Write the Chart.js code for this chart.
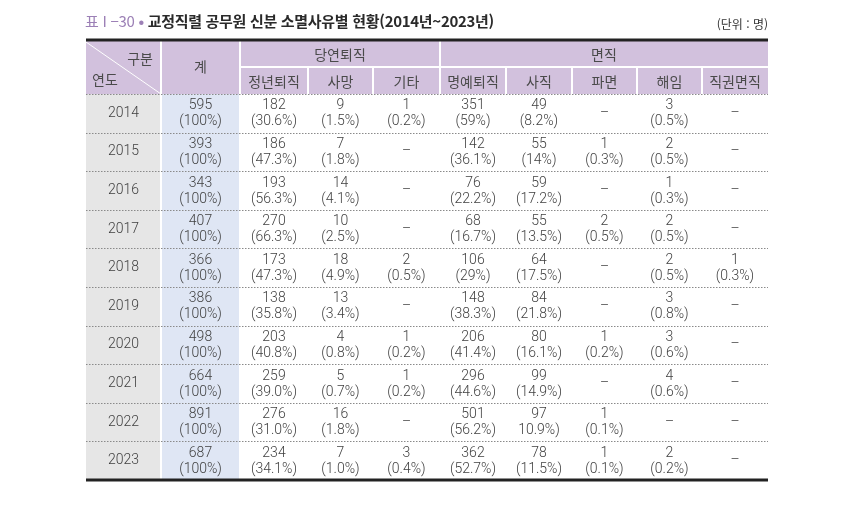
<!DOCTYPE html>
<html lang="ko">
<head>
<meta charset="utf-8">
<title>교정직렬 공무원 신분 소멸사유별 현황</title>
<script src="https://cdn.jsdelivr.net/npm/chart.js@4.4.1/dist/chart.umd.min.js"></script>
<style>
    body { margin: 0; background: #fff; }
    #wrap { position: relative; width: 850px; height: 505px; }
    #title {
        position: absolute; left: 85px; top: 10px;
        font: 700 15px "Noto Sans CJK KR", sans-serif; color: #2a2a2a;
        letter-spacing: -0.3px; white-space: nowrap;
    }
    #title .no { color: #9c80b6; font-weight: 400; }
    #title .dot { color: #9c80b6; }
    #unit {
        position: absolute; right: 82px; top: 15px;
        font: 12px "Noto Sans CJK KR", sans-serif; color: #333;
    }
</style>
</head>
<body>
<div id="wrap">
    <canvas id="tableChart" width="850" height="505"></canvas>
    <div id="title"><span class="no">표 I −30</span><span class="dot"> • </span>교정직렬 공무원 신분 소멸사유별 현황(2014년~2023년)</div>
    <div id="unit">(단위 : 명)</div>
</div>
<script>
const years = ['2014', '2015', '2016', '2017', '2018', '2019', '2020', '2021', '2022', '2023'];
const groupHeaders = ['당연퇴직', '면직'];
const subHeaders = ['정년퇴직', '사망', '기타', '명예퇴직', '사직', '파면', '해임', '직권면직'];

const totalCount = [595, 393, 343, 407, 366, 386, 498, 664, 891, 687];
const totalPct = ['(100%)', '(100%)', '(100%)', '(100%)', '(100%)', '(100%)', '(100%)', '(100%)', '(100%)', '(100%)'];

const retireCount = [182, 186, 193, 270, 173, 138, 203, 259, 276, 234];
const retirePct = ['(30.6%)', '(47.3%)', '(56.3%)', '(66.3%)', '(47.3%)', '(35.8%)', '(40.8%)', '(39.0%)', '(31.0%)', '(34.1%)'];
const deathCount = [9, 7, 14, 10, 18, 13, 4, 5, 16, 7];
const deathPct = ['(1.5%)', '(1.8%)', '(4.1%)', '(2.5%)', '(4.9%)', '(3.4%)', '(0.8%)', '(0.7%)', '(1.8%)', '(1.0%)'];
const etcCount = [1, null, null, null, 2, null, 1, 1, null, 3];
const etcPct = ['(0.2%)', null, null, null, '(0.5%)', null, '(0.2%)', '(0.2%)', null, '(0.4%)'];

const honorCount = [351, 142, 76, 68, 106, 148, 206, 296, 501, 362];
const honorPct = ['(59%)', '(36.1%)', '(22.2%)', '(16.7%)', '(29%)', '(38.3%)', '(41.4%)', '(44.6%)', '(56.2%)', '(52.7%)'];
const resignCount = [49, 55, 59, 55, 64, 84, 80, 99, 97, 78];
const resignPct = ['(8.2%)', '(14%)', '(17.2%)', '(13.5%)', '(17.5%)', '(21.8%)', '(16.1%)', '(14.9%)', '10.9%)', '(11.5%)'];
const dismissCount = [null, 1, null, 2, null, null, 1, null, 1, 1];
const dismissPct = [null, '(0.3%)', null, '(0.5%)', null, null, '(0.2%)', null, '(0.1%)', '(0.1%)'];
const removeCount = [3, 2, 1, 2, 2, 3, 3, 4, null, 2];
const removePct = ['(0.5%)', '(0.5%)', '(0.3%)', '(0.5%)', '(0.5%)', '(0.8%)', '(0.6%)', '(0.6%)', null, '(0.2%)'];
const officialCount = [null, null, null, null, 1, null, null, null, null, null];
const officialPct = [null, null, null, null, '(0.3%)', null, null, null, null, null];

// layout (scale units)
const colEdges = [0, 75, 154, 222, 287, 354, 420, 486, 551, 616, 682];
const headRow1 = 27;
const headRow2 = 54;
const rowH = 38.6;

document.addEventListener("DOMContentLoaded", function () {
    const seriesCount = [totalCount, retireCount, deathCount, etcCount, honorCount, resignCount, dismissCount, removeCount, officialCount];
    const seriesPct = [totalPct, retirePct, deathPct, etcPct, honorPct, resignPct, dismissPct, removePct, officialPct];

    const numFont = '300 14px Roboto, "Noto Sans CJK KR", sans-serif';
    const korFont = '14px "Noto Sans CJK KR", sans-serif';

    const tablePlugin = {
        id: 'tableDraw',
        afterDraw(chart) {
            const ctx = chart.ctx;
            const X = v => chart.scales.x.getPixelForValue(v);
            const Y = v => chart.scales.y.getPixelForValue(v);
            const yEnd = headRow2 + rowH * years.length;

            ctx.save();
            // header background
            ctx.fillStyle = '#d2c1dd';
            ctx.fillRect(X(0), Y(0), X(682) - X(0), Y(headRow2) - Y(0));
            // year / total columns
            ctx.fillStyle = '#e6e6e6';
            ctx.fillRect(X(0), Y(headRow2), X(colEdges[1]) - X(0), Y(yEnd) - Y(headRow2));
            ctx.fillStyle = '#dfe6f4';
            ctx.fillRect(X(colEdges[1]), Y(headRow2), X(colEdges[2]) - X(colEdges[1]), Y(yEnd) - Y(headRow2));

            // white separators
            ctx.strokeStyle = '#ffffff';
            ctx.lineWidth = 2;
            ctx.beginPath();
            for (let i = 1; i < colEdges.length - 1; i++) {
                const top = (i == 1 || i == 2 || i == 5) ? 0 : headRow1;
                const bottom = (i <= 2) ? yEnd : headRow2;
                ctx.moveTo(X(colEdges[i]), Y(top));
                ctx.lineTo(X(colEdges[i]), Y(bottom));
            }
            ctx.moveTo(X(colEdges[2]), Y(headRow1));
            ctx.lineTo(X(682), Y(headRow1));
            ctx.stroke();
            ctx.lineWidth = 1;
            ctx.beginPath();
            ctx.moveTo(X(0), Y(0) + 2);
            ctx.lineTo(X(colEdges[1]), Y(headRow2));
            ctx.stroke();

            // dotted row lines
            ctx.strokeStyle = '#8a8a8a';
            ctx.lineWidth = 1;
            ctx.setLineDash([1.5, 1.5]);
            ctx.beginPath();
            for (let r = 0; r < years.length; r++) {
                const yy = Math.round(Y(headRow2 + rowH * r)) + 0.5;
                ctx.moveTo(X(0), yy);
                ctx.lineTo(X(682), yy);
            }
            ctx.stroke();
            ctx.setLineDash([]);

            // thick top and bottom rules
            ctx.strokeStyle = '#222';
            ctx.lineWidth = 3;
            ctx.beginPath();
            ctx.moveTo(X(0), Y(0));
            ctx.lineTo(X(682), Y(0));
            ctx.moveTo(X(0), Y(yEnd));
            ctx.lineTo(X(682), Y(yEnd));
            ctx.stroke();

            // header texts
            ctx.textBaseline = 'middle';
            ctx.fillStyle = '#4a4a4a';
            ctx.font = korFont;
            ctx.textAlign = 'right';
            ctx.fillText('구분', X(colEdges[1]) - 8, Y(0) + 19);
            ctx.textAlign = 'left';
            ctx.fillText('연도', X(0) + 6, Y(0) + 40);
            ctx.textAlign = 'center';
            ctx.fillText('계', (X(colEdges[1]) + X(colEdges[2])) / 2, Y(headRow2 / 2));
            ctx.fillText(groupHeaders[0], (X(colEdges[2]) + X(colEdges[5])) / 2, Y(headRow1 / 2) + 1);
            ctx.fillText(groupHeaders[1], (X(colEdges[5]) + X(colEdges[10])) / 2, Y(headRow1 / 2) + 1);
            for (let i = 0; i < subHeaders.length; i++) {
                const cx = (X(colEdges[i + 2]) + X(colEdges[i + 3])) / 2;
                ctx.fillText(subHeaders[i], cx, Y((headRow1 + headRow2) / 2) + 1);
            }

            // data cells
            ctx.fillStyle = '#3f3f3f';
            ctx.font = numFont;
            for (let r = 0; r < years.length; r++) {
                const cy = Y(headRow2 + rowH * r + rowH / 2);
                ctx.fillText(years[r], (X(colEdges[0]) + X(colEdges[1])) / 2, cy);
                for (let c = 0; c < seriesCount.length; c++) {
                    const cx = (X(colEdges[c + 1]) + X(colEdges[c + 2])) / 2;
                    const v = seriesCount[c][r];
                    if (v === null) {
                        ctx.fillText('–', cx, cy);
                    } else {
                        ctx.fillText(String(v), cx, cy - 7.5);
                        ctx.fillText(seriesPct[c][r], cx, cy + 8.5);
                    }
                }
            }
            ctx.restore();
        }
    };

    const config = {
        type: 'scatter',
        data: { datasets: [{ data: [] }] },
        options: {
            responsive: false,
            animation: false,
            layout: { padding: { left: 86, right: 82, top: 40, bottom: 25 } },
            plugins: { legend: { display: false }, tooltip: { enabled: false } },
            scales: {
                x: { type: 'linear', min: 0, max: 682, display: false },
                y: { type: 'linear', min: 0, max: headRow2 + rowH * years.length, reverse: true, display: false }
            }
        },
        plugins: [tablePlugin]
    };
    const canvas = document.getElementById('tableChart');
    const chart = new Chart(canvas, config);
});
</script>
</body>
</html>
